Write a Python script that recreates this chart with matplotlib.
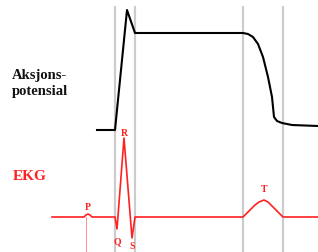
import matplotlib
matplotlib.use('Agg')
from matplotlib import pyplot as plt

# action potential (black), picture coordinates
ap_x = [97, 115, 127, 135, 243, 248, 253, 258, 263, 268, 272, 274, 277, 282, 292, 318]
ap_y = [131, 131, 11, 34, 34, 35, 38, 45, 58, 78, 98, 118, 122, 124, 126, 127]

# EKG trace (red)
ekg_x = [52, 84, 86, 88, 90, 92, 115, 117, 124, 132, 135, 243, 247, 251, 255, 259, 264, 268, 272, 277, 283, 318]
ekg_y = [218, 218, 216, 215, 216, 218, 218, 230, 139, 239, 218, 218, 214, 210, 206, 203, 201, 203, 207, 212, 218, 218]

# gray time markers
markers = [115, 135, 243, 283]
p_marker = 86

wave_labels = ['P', 'R', 'Q', 'S', 'T']
wave_x = [88, 124, 117, 132, 264]
wave_y = [208, 133, 242, 247, 190]

fig = plt.figure(figsize=(3.18, 2.53), dpi=100)
ax = fig.add_axes([0, 0, 1, 1])
ax.set_xlim(0, 318)
ax.set_ylim(253, 0)
ax.axis('off')

for m in markers:
    ax.plot([m, m], [8, 253], color='#cccccc', linewidth=1.6, zorder=1)
ax.plot([p_marker, p_marker], [218, 253], color='#ff8080', linewidth=0.6, zorder=1)

ax.plot(ap_x, ap_y, color='black', linewidth=1.5, zorder=3)
ax.plot(ekg_x, ekg_y, color='#ff2020', linewidth=1.2, zorder=3)

serif = ['Liberation Serif', 'DejaVu Serif']
ax.text(12, 75, 'Aksjons-', fontsize=10.5, fontweight='bold', family=serif, va='center', ha='left', color='#111111')
ax.text(12, 91, 'potensial', fontsize=10.5, fontweight='bold', family=serif, va='center', ha='left', color='#111111')
ax.text(13, 177, 'EKG', fontsize=11, fontweight='bold', family=serif, va='center', ha='left', color='#ff2020')

for lab, x, y in zip(wave_labels, wave_x, wave_y):
    ax.text(x, y, lab, fontsize=7, fontweight='bold', family=serif, ha='center', va='center', color='#ff2020')

fig.savefig('out.png', dpi=100)
